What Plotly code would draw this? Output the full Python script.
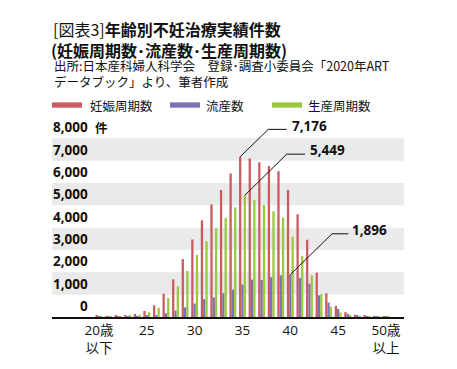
import plotly.graph_objects as go

# ---- data ----
ages = list(range(20, 51))
x_tick_vals = [20, 25, 30, 35, 40, 45, 50]
x_tick_text = ["20歳<br>以下", "25", "30", "35", "40", "45", "50歳<br>以上"]
series_names = ["妊娠周期数", "流産数", "生産周期数"]
pregnancy = [50, 40, 50, 80, 140, 270, 520, 1040, 1690, 2590, 3470, 4330, 5040, 5690, 6430,
             7176, 7100, 6930, 6760, 6530, 5690, 4600, 3460, 1990, 1060, 500, 220, 100, 50, 30, 30]
miscarriage = [10, 10, 10, 20, 30, 50, 80, 170, 290, 430, 600, 800, 880, 1070, 1230,
               1450, 1670, 1660, 1780, 1860, 1896, 1740, 1490, 970, 640, 360, 140, 50, 20, 10, 10]
livebirth = [30, 25, 35, 50, 100, 210, 420, 850, 1370, 2060, 2780, 3390, 3970, 4440, 4910,
             5449, 5240, 5020, 4730, 4440, 3590, 2740, 1870, 1020, 460, 200, 70, 30, 15, 10, 10]
y_tick_vals = [0, 1000, 2000, 3000, 4000, 5000, 6000, 7000, 8000]
y_tick_text = ["0", "1,000", "2,000", "3,000", "4,000", "5,000", "6,000", "7,000", "8,000"]

colors = ["#cc5a5f", "#7b72b6", "#9bc83c"]
FONT = "Open Sans, Noto Sans CJK JP, sans-serif"
CJK = "Noto Sans CJK JP, sans-serif"

W, H = 457, 369
L, R, T, B = 52, 404, 116, 326.7
PW, PH = R - L, B - T
YMAX = 9000
XMIN, XMAX = 15.09, 51.88


def px(p):
    return (p - L) / PW


def py(p):
    return (B - p) / PH


def xd(p):
    return XMIN + (p - L) / PW * (XMAX - XMIN)


def yd(p):
    return (B - p) / PH * YMAX


fig = go.Figure()
for name, vals, c in zip(series_names, [pregnancy, miscarriage, livebirth], colors):
    fig.add_trace(go.Bar(x=ages, y=vals, name=name, marker=dict(color=c, line=dict(width=0)),
                         showlegend=False))

shapes = []
# alternating bands
for lo in [1000, 3000, 5000, 7000]:
    shapes.append(dict(type="rect", xref="paper", yref="y", x0=0, x1=1, y0=lo, y1=lo + 1000,
                       fillcolor="#e9eaec", line=dict(width=0), layer="below"))

annotations = []
# y tick labels (centered in band above each value)
for v, t in zip(y_tick_vals, y_tick_text):
    annotations.append(dict(xref="paper", yref="y", x=px(90), y=v + 500, text=f"<b>{t}</b>",
                            showarrow=False, xanchor="right", yanchor="middle",
                            font=dict(family=FONT, size=13.5, color="#111")))
annotations.append(dict(xref="paper", yref="y", x=px(93), y=8500, text="<b>件</b>",
                        showarrow=False, xanchor="left", yanchor="middle",
                        font=dict(family=CJK, size=12.5, color="#111")))

# titles
annotations += [
    dict(xref="paper", yref="paper", x=px(51), y=py(25), xanchor="left", yanchor="middle",
         showarrow=False, text="[図表3]<b>年齢別不妊治療実績件数</b>",
         font=dict(family=CJK, size=16, color="#111")),
    dict(xref="paper", yref="paper", x=px(49), y=py(47), xanchor="left", yanchor="middle",
         showarrow=False, text="<b>(妊娠周期数･流産数･生産周期数)</b>",
         font=dict(family=CJK, size=16, color="#111")),
    dict(xref="paper", yref="paper", x=px(52), y=py(63.5), xanchor="left", yanchor="middle",
         showarrow=False, text="出所:日本産科婦人科学会　登録･調査小委員会「2020年ART",
         font=dict(family=CJK, size=12.5, color="#111")),
    dict(xref="paper", yref="paper", x=px(52), y=py(80), xanchor="left", yanchor="middle",
         showarrow=False, text="データブック」より、筆者作成",
         font=dict(family=CJK, size=12.5, color="#111")),
]

# legend
for (x0, tx), name, c in zip([(52, 88), (170, 204), (272, 306)], series_names, colors):
    shapes.append(dict(type="rect", xref="paper", yref="paper", x0=px(x0), x1=px(x0 + 30),
                       y0=py(107.3), y1=py(101.7), fillcolor=c, line=dict(width=0)))
    annotations.append(dict(xref="paper", yref="paper", x=px(tx), y=py(104.5), xanchor="left",
                            yanchor="middle", showarrow=False, text=name,
                            font=dict(family=CJK, size=12.5, color="#111")))

# leader lines + value labels
off = 0.24
callouts = [
    (35 - off, pregnancy[ages.index(35)], (268.3, 130), (286.7, 130), (289.5, 126)),
    (35 + off, livebirth[ages.index(35)], (286.7, 156), (305, 156), (308, 151.5)),
    (40, miscarriage[ages.index(40)], (332, 239.5), (348.3, 239.5), (350, 235)),
]
for bx, bv, e1, e2, tp in callouts:
    shapes.append(dict(type="path", xref="x", yref="y",
                       path=f"M {bx},{bv} L {xd(e1[0])},{yd(e1[1])} L {xd(e2[0])},{yd(e2[1])}",
                       line=dict(color="#111", width=1)))
    annotations.append(dict(xref="x", yref="y", x=xd(tp[0]), y=yd(tp[1]), xanchor="left",
                            yanchor="middle", showarrow=False, text=f"<b>{bv:,}</b>",
                            font=dict(family=FONT, size=13.5, color="#111")))

fig.update_layout(
    width=W, height=H,
    margin=dict(l=L, r=W - R, t=T, b=H - B),
    paper_bgcolor="white", plot_bgcolor="white",
    barmode="group", bargap=0.28, bargroupgap=0,
    shapes=shapes, annotations=annotations,
    xaxis=dict(range=[XMIN, XMAX], tickvals=x_tick_vals, ticktext=x_tick_text,
               showgrid=False, zeroline=False, showline=True, linecolor="#111", linewidth=1.5,
               ticks="", tickfont=dict(family=FONT, size=13.5, color="#111"), fixedrange=True),
    yaxis=dict(range=[0, YMAX], showticklabels=False, showgrid=False, zeroline=False,
               showline=False, ticks="", fixedrange=True),
    font=dict(family=FONT),
)
fig.update_xaxes(tickprefix="<b>", ticksuffix="</b>")

fig.write_html("out.html", config={"displayModeBar": False},
               post_script="document.body.style.margin='0';document.body.style.overflow='hidden';")
